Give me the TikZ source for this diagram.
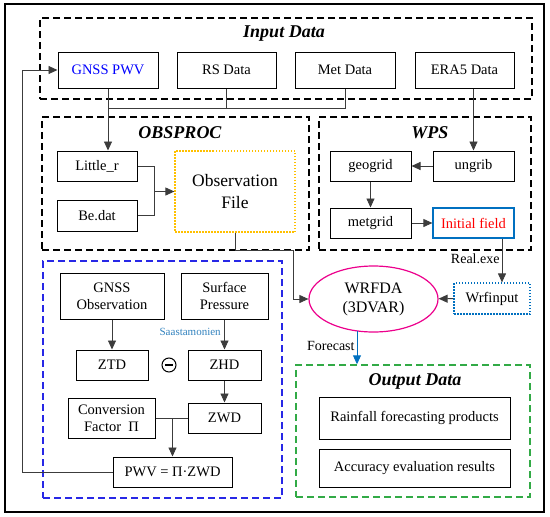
\documentclass[tikz,border=0pt]{standalone}
\usepackage{fontspec}
\setmainfont{Liberation Serif}
\usetikzlibrary{arrows.meta, positioning, calc, shapes.geometric}
\definecolor{pwvblue}{RGB}{0,0,255}
\definecolor{initblue}{RGB}{0,112,192}
\definecolor{obsorange}{RGB}{255,192,0}
\definecolor{grpblue}{RGB}{40,40,230}
\definecolor{grpgreen}{RGB}{50,170,70}
\definecolor{saasblue}{RGB}{50,130,190}
\definecolor{lnkgray}{RGB}{60,60,60}
\tikzset{
	sz/.style 2 args={minimum width=#1pt, minimum height=#2pt},
	box/.style={rectangle, draw, line width=1pt, inner sep=1pt, align=center,
		font=\fontsize{14.5}{17}\selectfont},
	grp/.style={rectangle, draw, line width=1.4pt, dash pattern=on 7pt off 4pt, inner sep=0pt},
	ttl/.style={font=\fontsize{18}{20}\selectfont\bfseries\itshape},
	arr/.style={-{Triangle[length=9pt, width=8pt]}, line width=0.9pt, draw=lnkgray},
	lnk/.style={line width=0.9pt, draw=lnkgray},
	lbl/.style={font=\fontsize{14}{16}\selectfont, inner sep=2pt},
}
\begin{document}
\begin{tikzpicture}[x=1pt, y=-1pt]
	\useasboundingbox (0,0) rectangle (550,517);
	\draw[line width=1.2pt] (5,4) rectangle (544,512);
	
	% groups
	\node[grp, sz={492}{81}] (ingrp) at (286,58.5) {};
	\node[grp, sz={267}{133}] (obsgrp) at (175.5,183.5) {};
	\node[grp, sz={212}{133}] (wpsgrp) at (425,183.5) {};
	\node[grp, draw=grpblue, sz={239}{237}] (pwvgrp) at (162.5,379.5) {};
	\node[grp, draw=grpgreen, sz={234}{132}] (outgrp) at (413,431) {};
	\node[ttl] (inttl) at (284,34) {Input Data};
	\node[ttl] (obsttl) at (180,133) {OBSPROC};
	\node[ttl] (wpsttl) at (430,133) {WPS};
	\node[ttl] (outttl) at (415,381) {Output Data};
	
	% input data
	\node[box, sz={100}{36}, text=pwvblue] (gnss) at (108,70) {GNSS PWV};
	\node[box, sz={99}{36}] (rs) at (226.5,70) {RS Data};
	\node[box, sz={100}{36}] (met) at (345,70) {Met Data};
	\node[box, sz={99}{36}] (era) at (464.5,70) {ERA5 Data};
	
	% obsproc
	\node[box, sz={80}{30}] (little) at (97,166) {Little\_r};
	\node[box, sz={80}{31}] (bedat) at (97,215.5) {Be.dat};
	\node[box, draw=obsorange, dash pattern=on 1.5pt off 1.5pt, line width=1.2pt, sz={120}{81},
		font=\fontsize{17.5}{22}\selectfont] (obsfile) at (235,191.5) {Observation\\File};
	
	% wps
	\node[box, sz={81}{30}] (ungrib) at (473.5,166) {ungrib};
	\node[box, sz={81}{30}] (geogrid) at (370.5,166) {geogrid};
	\node[box, sz={81}{30}] (metgrid) at (370.5,223) {metgrid};
	\node[box, draw=initblue, line width=1.2pt, sz={81}{30}, text=red] (initfield) at (473.5,223) {Initial field};
	
	% wrfda
	\node[box, draw=initblue, dash pattern=on 1.5pt off 1.5pt, line width=1.2pt, sz={76}{31}] (wrfinput) at (492,298.5) {Wrfinput};
	\node[ellipse, draw=magenta, line width=1.2pt, sz={129}{66}, inner sep=0pt, align=center,
		font=\fontsize{16}{19}\selectfont] (wrfda) at (373.5,299) {WRFDA\\(3DVAR)};
	
	% gnss pwv retrieval
	\node[box, sz={104}{46}] (gnssobs) at (112,296) {GNSS\\Observation};
	\node[box, sz={87}{46}] (surf) at (224.5,296) {Surface\\Pressure};
	\node[box, sz={72}{30}] (ztd) at (112,365) {ZTD};
	\node[box, sz={73}{30}] (zhd) at (224.5,365) {ZHD};
	\node[circle, draw, line width=1pt, minimum size=14pt, inner sep=0pt] (minus) at (169,365) {};
	\node[box, sz={73}{30}] (zwd) at (224.5,418) {ZWD};
	\node[box, sz={87}{40}] (conv) at (111.5,418) {Conversion\\Factor~~Π};
	\node[box, sz={119}{30}] (pwv) at (172.5,472) {PWV~=~Π·ZWD};
	
	% output data
	\node[box, sz={191}{42}] (rain) at (414.5,418) {Rainfall forecasting products};
	\node[box, sz={191}{38}] (acc) at (414.5,468) {Accuracy evaluation results};
	
	\coordinate (injoin) at (108,108);
	\coordinate (obsjoin) at (154,191.5);
	\coordinate (obsbend) at (293,250);
	\coordinate (fbcorner) at (22,70);
	
	\draw[line width=1.6pt] ([xshift=-4pt]minus.center) -- ([xshift=4pt]minus.center);
	\draw[lnk] (rs.south) |- (injoin);
	\draw[lnk] (met.south) |- (injoin);
	\draw[arr] (gnss.south) -- (gnss.south |- little.north);
	\draw[arr] (ungrib.north |- era.south) -- (ungrib.north);
	\draw[lnk] (little.east) -| (obsjoin);
	\draw[lnk] (bedat.east) -| (obsjoin);
	\draw[arr] (obsjoin) -- (obsfile.west);
	\draw[arr] (ungrib) -- (geogrid);
	\draw[arr] (geogrid) -- (metgrid);
	\draw[arr] (metgrid) -- (initfield);
	\draw[arr] ([xshift=28.5pt]initfield.south) -- node[lbl, left, pos=0.45] {Real.exe}
		([xshift=28.5pt]initfield.south |- wrfinput.north);
	\draw[arr] (wrfinput) -- (wrfda);
	\draw[arr] (obsfile.south) |- (obsbend) |- (wrfda.west);
	\draw[arr, draw=initblue] ([xshift=-16.5pt, yshift=1.2pt]wrfda.south)
		-- node[lbl, left, pos=0.45] {Forecast} ([xshift=-16.5pt]wrfda.south |- outgrp.north);
	\draw[arr] (gnssobs) -- (ztd);
	\draw[arr] (surf) -- node[left, pos=0.4, text=saasblue, font=\fontsize{11}{12}\selectfont] {Saastamonien} (zhd);
	\draw[arr] (zhd) -- (zwd);
	\draw[lnk] (conv.east) -- (zwd.west);
	\draw[arr] (pwv.north |- conv.east) -- (pwv.north);
	\draw[arr] (pwv.west) -| (fbcorner) -- (gnss.west);
\end{tikzpicture}
\end{document}
